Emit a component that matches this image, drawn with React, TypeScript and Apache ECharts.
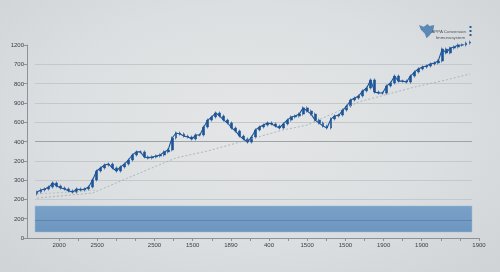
import React, { useEffect, useRef } from "react";
import * as echarts from "echarts";

// Tick labels as printed in the reference
const yTickLabels = ["0", "200", "200", "300", "200", "400", "600", "900", "800", "700", "1200"];
const xTickLabels = ["2000", "", "2500", "", "", "2500", "", "1500", "", "1890", "", "400", "", "1500", "", "1500", "", "1900", "", "1900", "", "", "1900"];

// Main (candle) series closing values, in axis units 0..1000
const closes = [
  238, 249, 254, 264, 285, 269, 259, 254, 244, 238,
  254, 249, 254, 264, 301, 347, 363, 378, 383, 363,
  347, 368, 383, 404, 430, 446, 446, 420, 415, 420,
  425, 430, 446, 456, 518, 544, 539, 528, 523, 513,
  534, 534, 575, 611, 627, 648, 632, 611, 596, 570,
  554, 528, 513, 497, 523, 560, 575, 585, 596, 591,
  580, 570, 591, 611, 627, 632, 642, 674, 658, 642,
  611, 596, 580, 570, 617, 632, 637, 663, 684, 715,
  725, 736, 762, 777, 819, 756, 751, 751, 788, 803,
  839, 813, 813, 808, 839, 860, 876, 886, 891, 902,
  907, 917, 979, 959, 984, 990, 1000, 1000, 1010, 1015,
];
const firstOpen = 228;

// Dashed trend lines: [candle index, value]
const trendA: [number, number][] = [
  [0, 207], [14, 233], [21, 295], [35, 415], [43, 451], [53, 508],
  [62, 560], [68, 585], [81, 705], [95, 782], [103, 819], [109, 850],
];
const trendB: [number, number][] = [[0, 228], [8, 238], [15, 249]];

// Lower band
const bandRange = [31, 166];
const bandLine = 93;

export default function App() {
  const ref = useRef<HTMLDivElement>(null);
  useEffect(() => {
    if (!ref.current) return;
    const chart = echarts.init(ref.current, null, { renderer: "svg" });
    echarts.graphic.registerShape(
      "logo",
      echarts.graphic.extendPath(
        "M0 1 L5 3 L9 0 L11 2 L16 1 L15 7 L11 12 L8 15 L6 10 L2 6 Z",
        {}
      )
    );
    const cats = closes.map((_, i) => String(i));
    const ohlc = closes.map((c, i) => {
      const o = i === 0 ? firstOpen : closes[i - 1];
      const hi = Math.max(o, c) + 8;
      const lo = Math.min(o, c) - 8;
      return [o, c, lo, hi];
    });
    const labelIdx = xTickLabels.map((l, i) => (l ? i : -1)).filter((i) => i >= 0);
    const allIdx = xTickLabels.map((_, i) => i);
    const txt = { color: "#3b4045", fontSize: 6, fontFamily: "Liberation Sans" };
    const gridColors = yTickLabels.map((_, i) =>
      i === 0 || i === 10 ? "rgba(0,0,0,0)" : i === 5 ? "#9ea3a7" : "#c4c8cb"
    );
    const blue = "#1d5497";

    chart.setOption({
      animation: false,
      backgroundColor: "transparent",
      grid: [
        { left: 27, right: 21, top: 45, bottom: 34 },
        { left: 35, right: 28, top: 45, bottom: 34 },
      ],
      xAxis: [
        {
          type: "value",
          gridIndex: 0,
          min: -1.68,
          max: 22,
          axisLine: { show: true, onZero: false, lineStyle: { color: "#8d9297", width: 1 } },
          axisTick: { show: true, length: 3, customValues: allIdx, lineStyle: { color: "#8d9297" } },
          axisLabel: {
            ...txt,
            margin: 4,
            customValues: labelIdx,
            formatter: (v: number) => xTickLabels[Math.round(v)] || "",
          },
          splitLine: { show: false },
        },
        {
          type: "category",
          gridIndex: 1,
          data: cats,
          boundaryGap: true,
          show: false,
        },
      ],
      yAxis: [
        {
          type: "value",
          gridIndex: 0,
          min: 0,
          max: 1000,
          interval: 100,
          axisLine: { show: true, onZero: false, lineStyle: { color: "#8d9297", width: 1 } },
          axisTick: { show: true, length: 3, lineStyle: { color: "#8d9297" } },
          axisLabel: {
            ...txt,
            margin: 3,
            formatter: (v: number) => yTickLabels[Math.round(v / 100)] || "",
          },
          splitLine: { show: false },
        },
        {
          type: "value",
          gridIndex: 1,
          min: 0,
          max: 1000,
          interval: 100,
          axisLine: { show: false },
          axisTick: { show: false },
          axisLabel: { show: false },
          splitLine: { show: true, lineStyle: { color: gridColors, width: 1 } },
        },
      ],
      series: [
        { type: "line", xAxisIndex: 0, yAxisIndex: 0, data: [], silent: true },
        {
          type: "line",
          xAxisIndex: 1,
          yAxisIndex: 1,
          data: [],
          silent: true,
          markArea: {
            silent: true,
            itemStyle: {
              color: new echarts.graphic.LinearGradient(0, 0, 0, 1, [
                { offset: 0, color: "#7aa2c8" },
                { offset: 1, color: "#6c95bf" },
              ]),
              borderColor: "#9dbcd9",
              borderWidth: 0.5,
            },
            data: [[{ yAxis: bandRange[0] }, { yAxis: bandRange[1] }]],
          },
          markLine: {
            silent: true,
            symbol: "none",
            label: { show: false },
            lineStyle: { color: "#5f85ad", type: "solid", width: 1 },
            data: [{ yAxis: bandLine }],
          },
        },
        {
          type: "line",
          xAxisIndex: 1,
          yAxisIndex: 1,
          data: trendB,
          symbol: "none",
          lineStyle: { color: "#b2b7bb", width: 0.8, type: [2, 2] },
          silent: true,
        },
        {
          type: "line",
          xAxisIndex: 1,
          yAxisIndex: 1,
          data: trendA,
          symbol: "none",
          lineStyle: { color: "#a3a8ad", width: 0.8, type: [2, 2] },
          silent: true,
        },
        {
          type: "line",
          xAxisIndex: 1,
          yAxisIndex: 1,
          data: closes,
          symbol: "none",
          lineStyle: { color: blue, width: 1.1 },
          silent: true,
        },
        {
          type: "candlestick",
          xAxisIndex: 1,
          yAxisIndex: 1,
          data: ohlc,
          barWidth: 2.4,
          clip: false,
          itemStyle: {
            color: blue,
            color0: blue,
            borderColor: blue,
            borderColor0: blue,
            borderWidth: 0.6,
          },
          silent: true,
        },
      ],
      graphic: [
        {
          type: "logo",
          x: 419,
          y: 24,
          scaleX: 0.95,
          scaleY: 0.95,
          style: { fill: "#5c88b8" },
        },
        {
          type: "text",
          x: 466,
          y: 31,
          style: {
            text: "APPA Conversion",
            fill: "#4a5460",
            fontSize: 4.4,
            fontFamily: "Liberation Sans",
            align: "right",
            verticalAlign: "middle",
          },
        },
        {
          type: "text",
          x: 465,
          y: 37,
          style: {
            text: "Immunosystem",
            fill: "#4a5460",
            fontSize: 4.3,
            fontFamily: "Liberation Sans",
            align: "right",
            verticalAlign: "middle",
          },
        },
        { type: "rect", shape: { x: 469.5, y: 26, width: 2, height: 2 }, style: { fill: "#2a5a93" } },
        { type: "rect", shape: { x: 469.5, y: 30, width: 2, height: 2 }, style: { fill: "#2a5a93" } },
        { type: "rect", shape: { x: 469.5, y: 34, width: 2, height: 2 }, style: { fill: "#2a5a93" } },
      ],
    });
    return () => chart.dispose();
  }, []);
  return (
    <div
      style={{
        position: "fixed",
        left: 0,
        top: 0,
        width: 500,
        height: 272,
        background: "radial-gradient(ellipse at 50% 45%, #e4e6e7 0%, #dcdfe1 55%, #cfd3d6 100%)",
      }}
    >
      <div ref={ref} style={{ width: 500, height: 272 }} />
    </div>
  );
}
